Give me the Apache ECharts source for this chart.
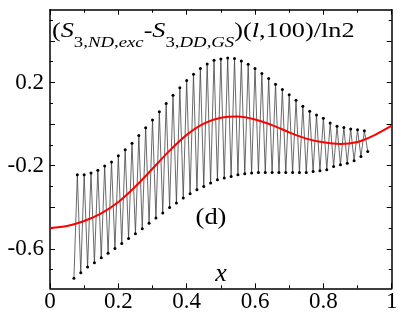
<!DOCTYPE html>
<html>
<head>
<meta charset="utf-8">
<script src="https://cdn.jsdelivr.net/npm/echarts@6/dist/echarts.min.js"></script>
<style>html,body{margin:0;padding:0;background:#fff}#c{width:407px;height:315px}</style>
</head>
<body>
<div id="c"></div>
<script>
// site index l (x = l/100); odd l -> lower branch, even l -> upper branch
var sites = [];
for (var l = 7; l <= 93; l++) sites.push(l);
var zigzagValues = [
  -0.742, -0.244, -0.715, -0.244, -0.688, -0.236, -0.667, -0.222, -0.643, -0.202,
  -0.621, -0.182, -0.599, -0.153, -0.575, -0.124, -0.551, -0.092, -0.528, -0.055,
  -0.503, -0.018, -0.477, 0.019, -0.452, 0.059, -0.428, 0.099, -0.401, 0.139,
  -0.380, 0.174, -0.356, 0.210, -0.335, 0.240, -0.316, 0.267, -0.300, 0.289,
  -0.284, 0.307, -0.268, 0.313, -0.260, 0.318, -0.252, 0.315, -0.244, 0.303,
  -0.239, 0.288, -0.236, 0.267, -0.233, 0.243, -0.233, 0.219, -0.233, 0.192,
  -0.233, 0.166, -0.233, 0.141, -0.233, 0.115, -0.233, 0.086, -0.233, 0.062,
  -0.228, 0.043, -0.225, 0.028, -0.220, 0.005, -0.204, -0.011, -0.196, -0.017,
  -0.188, -0.024, -0.177, -0.028, -0.156, -0.032, -0.132
];
var redX = [0, 0.05, 0.10, 0.15, 0.20, 0.25, 0.30, 0.35, 0.40, 0.45, 0.50, 0.55, 0.60, 0.65, 0.70, 0.75, 0.80, 0.85, 0.90, 0.95, 1.0];
var redY = [-0.500, -0.490, -0.466, -0.430, -0.375, -0.300, -0.215, -0.128, -0.052, 0.002, 0.030, 0.036, 0.022, -0.005, -0.040, -0.070, -0.088, -0.096, -0.086, -0.053, -0.008];
var xTicks = [0, 0.2, 0.4, 0.6, 0.8, 1];
var yMajorTicks = [-0.6, -0.4, -0.2, 0, 0.2, 0.4];
var yMinorTicks = [-0.7, -0.5, -0.3, -0.1, 0.1, 0.3, 0.5];
var yTickLabels = [-0.6, -0.2, 0.2];

var zig = sites.map(function (l, i) { return [l / 100, zigzagValues[i]]; });
var red = redX.map(function (x, i) { return [x, redY[i]]; });

var FONT = 'Liberation Serif';
var lineStyle = { color: '#000', width: 1.5 };

function xAx(pos, labels) {
  return {
    type: 'value', position: pos, min: 0, max: 1, interval: 0.2,
    axisLine: { show: true, onZero: false, lineStyle: lineStyle },
    axisTick: { show: true, inside: true, length: 5, lineStyle: { color: '#000', width: 1 } },
    minorTick: { show: true, splitNumber: 2, length: 3, lineStyle: { color: '#000', width: 1 } },
    axisLabel: { show: labels, fontFamily: FONT, fontSize: 23, color: '#000', margin: 2 },
    splitLine: { show: false }, minorSplitLine: { show: false }
  };
}
function yAx(pos, ticks, len, labels, lineShow) {
  return {
    type: 'value', position: pos, min: -0.79, max: 0.55,
    axisLine: { show: lineShow, onZero: false, lineStyle: lineStyle },
    axisTick: { show: true, inside: true, length: len, customValues: ticks, lineStyle: { color: '#000', width: 1 } },
    axisLabel: { show: labels, customValues: labels ? yTickLabels : ticks, fontFamily: FONT, fontSize: 23, color: '#000', margin: 6 },
    splitLine: { show: false }
  };
}

var chart = echarts.init(document.getElementById('c'), null, { renderer: 'canvas' });
chart.setOption({
  animation: false,
  backgroundColor: '#fff',
  grid: { left: 50, right: 15.3, top: 9.7, bottom: 26.7, containLabel: false },
  xAxis: [xAx('bottom', true), xAx('top', false)],
  yAxis: [
    yAx('left', yMajorTicks, 5, true, true),
    yAx('left', yMinorTicks, 3, false, false),
    yAx('right', yMajorTicks, 5, false, true),
    yAx('right', yMinorTicks, 3, false, false)
  ],
  series: [
    {
      type: 'line', data: zig, xAxisIndex: 0, yAxisIndex: 0,
      symbol: 'circle', symbolSize: 3, showSymbol: true,
      itemStyle: { color: '#000' },
      lineStyle: { color: '#444', width: 0.8 }, z: 2
    },
    {
      type: 'line', data: red, xAxisIndex: 0, yAxisIndex: 0,
      smooth: 0.3, symbol: 'none',
      lineStyle: { color: '#ff0000', width: 2 }, z: 3
    }
  ],
  graphic: [
    {
      type: 'text', x: 52, y: 31, scaleX: 1.25, z: 10,
      style: {
        x: 0, y: 0, align: 'left', verticalAlign: 'middle',
        text: '{a|(}{i|S}{s|3,}{si|ND}{s|,}{si|exc}{a|-}{i|S}{s|3,}{si|DD}{s|,}{si|GS}{a|)(}{i|l}{a|,100)/ln2}',
        rich: {
          a: { fontFamily: FONT, fontSize: 21, fill: '#000', lineHeight: 24, verticalAlign: 'middle' },
          i: { fontFamily: FONT, fontSize: 21, fontStyle: 'italic', fill: '#000', lineHeight: 24, verticalAlign: 'middle' },
          s: { fontFamily: FONT, fontSize: 15, fill: '#000', lineHeight: 17, padding: [24, 0, 0, 0], verticalAlign: 'middle' },
          si: { fontFamily: FONT, fontSize: 15, fontStyle: 'italic', fill: '#000', lineHeight: 17, padding: [24, 0, 0, 0], verticalAlign: 'middle' }
        }
      }
    },
    {
      type: 'text', x: 211, y: 218, scaleX: 1.15, z: 10,
      style: { text: '(d)', x: 0, y: 0, align: 'center', verticalAlign: 'middle', fontFamily: FONT, fontSize: 23, fill: '#000' }
    },
    {
      type: 'text', x: 221, y: 274, z: 10,
      style: { text: 'x', x: 0, y: 0, align: 'center', verticalAlign: 'middle', fontFamily: FONT, fontSize: 26, fontStyle: 'italic', fill: '#000' }
    }
  ]
});
</script>
</body>
</html>
